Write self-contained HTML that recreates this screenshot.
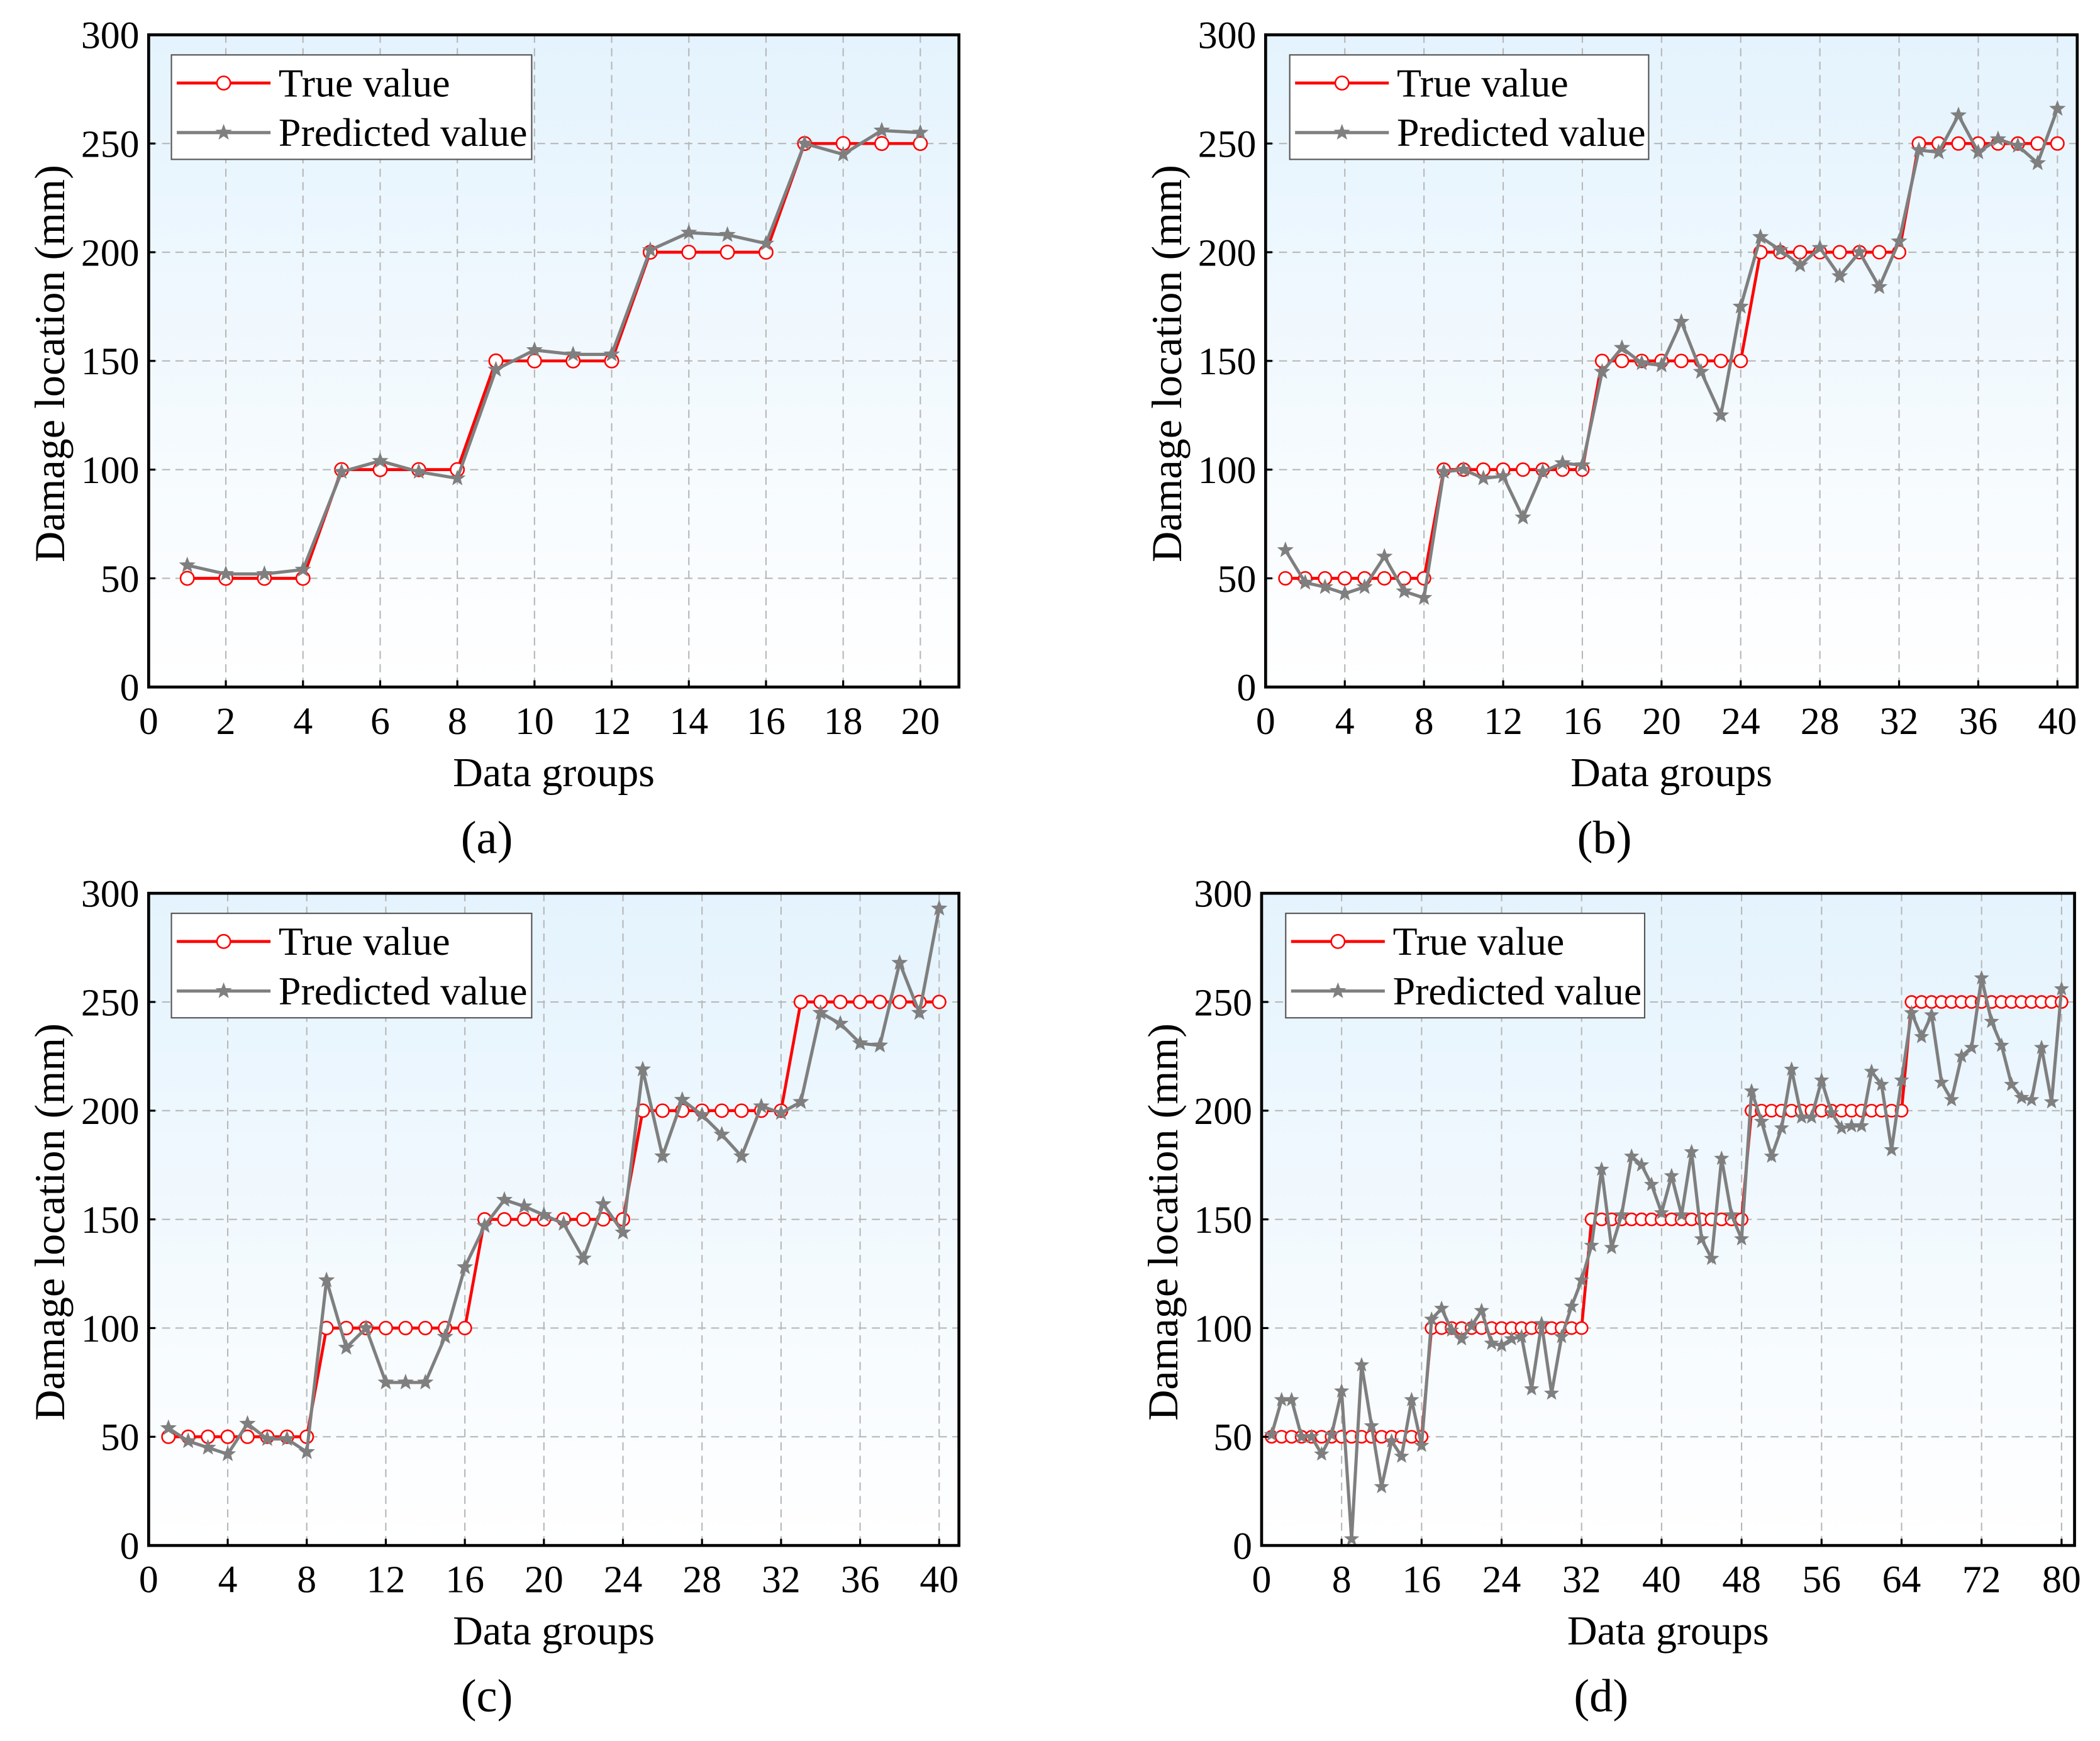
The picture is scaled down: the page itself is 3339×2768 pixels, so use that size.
<!DOCTYPE html>
<html><head><meta charset="utf-8"><style>
html,body{margin:0;padding:0;background:#fff}
svg{display:block}
text{font-family:"Liberation Serif",serif;fill:#000}
</style></head><body>
<svg id="fig" xmlns="http://www.w3.org/2000/svg" width="3339" height="2768" viewBox="0 0 1568 1300" preserveAspectRatio="none">
<defs>
<linearGradient id="bg" x1="0" y1="0" x2="0" y2="1">
<stop offset="0" stop-color="#e4f3fd"/><stop offset="1" stop-color="#ffffff"/>
</linearGradient>
</defs>
</svg>
<script>
const trueA=[50,50,50,50,100,100,100,100,150,150,150,150,200,200,200,200,250,250,250,250];
const predA=[56,52,52,54,99,104,99,96,146,155,153,153,201,209,208,204,250,245,256,255];
const trueB=[50,50,50,50,50,50,50,50,100,100,100,100,100,100,100,100,150,150,150,150,150,150,150,150,200,200,200,200,200,200,200,200,250,250,250,250,250,250,250,250];
const predB=[63,48,46,43,46,60,44,41,99,100,96,97,78,99,103,102,145,156,149,148,168,145,125,175,207,201,194,202,189,200,184,205,247,246,263,246,252,249,241,266];
const trueC=[50,50,50,50,50,50,50,50,100,100,100,100,100,100,100,100,150,150,150,150,150,150,150,150,200,200,200,200,200,200,200,200,250,250,250,250,250,250,250,250];
const predC=[54,48,45,42,56,49,49,43,122,91,100,75,75,75,96,128,147,159,156,152,148,132,157,144,219,179,205,198,189,179,202,199,204,245,240,231,230,268,245,293];
const trueD=[50,50,50,50,50,50,50,50,50,50,50,50,50,50,50,50,100,100,100,100,100,100,100,100,100,100,100,100,100,100,100,100,150,150,150,150,150,150,150,150,150,150,150,150,150,150,150,150,200,200,200,200,200,200,200,200,200,200,200,200,200,200,200,200,250,250,250,250,250,250,250,250,250,250,250,250,250,250,250,250];
const predD=[51,67,67,50,50,42,51,71,3,83,55,27,48,41,67,46,104,109,99,95,101,108,93,92,95,96,72,102,70,96,110,122,138,173,137,152,179,175,166,153,170,152,181,141,132,178,152,141,209,195,179,192,219,197,197,214,199,192,193,193,218,212,182,214,245,234,244,213,205,225,229,261,241,230,212,206,205,229,204,256];
const yTicks=[0,50,100,150,200,250,300];
const xTicksA=[0,2,4,6,8,10,12,14,16,18,20];
const xTicksB=[0,4,8,12,16,20,24,28,32,36,40];
const xTicksD=[0,8,16,24,32,40,48,56,64,72,80];

const NS="http://www.w3.org/2000/svg";
const svg=document.getElementById('fig');
function mk(tag,attrs,parent,txt){const e=document.createElementNS(NS,tag);for(const k in attrs)e.setAttribute(k,attrs[k]);if(txt!==undefined)e.textContent=txt;(parent||svg).appendChild(e);return e;}
function starPts(cx,cy,R){const r=R*0.42;let p=[];for(let i=0;i<10;i++){const a=-Math.PI/2+i*Math.PI/5;const rr=i%2?r:R;p.push((cx+rr*Math.cos(a)).toFixed(2)+','+(cy+rr*Math.sin(a)).toFixed(2));}return p.join(' ');}

const panels=[
 {id:'a',L:111,R:716,T:26,B:513,xmax:21,xt:xTicksA,tv:trueA,pv:predA,leg:[128,41,397,119],cap:'(a)',cr:5,sr:6.5},
 {id:'b',L:945,R:1551,T:26,B:513,xmax:41,xt:xTicksB,tv:trueB,pv:predB,leg:[963,41,1231,119],cap:'(b)',cr:4.8,sr:6.5},
 {id:'c',L:111,R:716,T:667,B:1154,xmax:41,xt:xTicksB,tv:trueC,pv:predC,leg:[128,682,397,760],cap:'(c)',cr:4.8,sr:6.5},
 {id:'d',L:942,R:1549,T:667,B:1154,xmax:81.3,xt:xTicksD,tv:trueD,pv:predD,leg:[960,682,1228,760],cap:'(d)',cr:4.5,sr:6}
];

panels.forEach(p=>{
 const g=mk('g',{});
 
 
 const X=v=>p.L+(v/p.xmax)*(p.R-p.L);
 const Y=v=>p.B-(v/300)*(p.B-p.T);
 const bg=mk('rect',{x:p.L,y:p.T,width:p.R-p.L,height:p.B-p.T,fill:'url(#bg)'},g);
 
 
 yTicks.forEach(t=>{if(t>0&&t<300){const l=mk('line',{x1:p.L,x2:p.R,y1:Y(t),y2:Y(t),stroke:'#b8b8b8','stroke-width':1,'stroke-dasharray':'6,4'},g);}});
 p.xt.forEach(t=>{if(t>0){const l=mk('line',{x1:X(t),x2:X(t),y1:p.T,y2:p.B,stroke:'#b8b8b8','stroke-width':1,'stroke-dasharray':'6,4'},g);}});
 const tp=p.tv.map((v,i)=>X(i+1)+','+Y(v)).join(' ');
 const pp=p.pv.map((v,i)=>X(i+1)+','+Y(v)).join(' ');
 const tl=mk('polyline',{points:tp,fill:'none',stroke:'#ff0000','stroke-width':2.2},g);
 
 
 p.tv.forEach((v,i)=>{const c=mk('circle',{cx:X(i+1),cy:Y(v),r:p.cr,fill:'#fff',stroke:'#ff0000','stroke-width':1.2},g);});
 const pl=mk('polyline',{points:pp,fill:'none',stroke:'#7f7f7f','stroke-width':2.4},g);
 
 
 p.pv.forEach((v,i)=>{const s=mk('polygon',{points:starPts(X(i+1),Y(v),p.sr),fill:'#7f7f7f'},g);});
 const box=mk('rect',{x:p.L,y:p.T,width:p.R-p.L,height:p.B-p.T,fill:'none',stroke:'#000','stroke-width':2.2},g);
 
 
 yTicks.forEach(t=>{mk('line',{x1:p.L,x2:p.L+5,y1:Y(t),y2:Y(t),stroke:'#000','stroke-width':1.5},g);
  const tx=mk('text',{x:p.L-7,y:Y(t)+10,'text-anchor':'end','font-size':29},g,String(t));});
 p.xt.forEach(t=>{mk('line',{x1:X(t),x2:X(t),y1:p.B,y2:p.B-5,stroke:'#000','stroke-width':1.5},g);
  const tx=mk('text',{x:X(t),y:p.B+35,'text-anchor':'middle','font-size':29},g,String(t));});
 const cx=(p.L+p.R)/2;
 const xt=mk('text',{x:cx,y:p.B+74,'text-anchor':'middle','font-size':31},g,'Data groups');
 
 
 const ym=(p.T+p.B)/2;
 const yt=mk('text',{x:0,y:0,'text-anchor':'middle','font-size':32,transform:'translate('+(p.L-63)+','+(ym+2)+') rotate(-90)'},g,'Damage location (mm)');
 
 
 const cap=mk('text',{x:cx-50,y:p.B+124,'text-anchor':'middle','font-size':35},g,p.cap);
 
 
 const [lx1,ly1,lx2,ly2]=p.leg;
 const lg=mk('g',{},g);
 
 
 mk('rect',{x:lx1,y:ly1,width:lx2-lx1,height:ly2-ly1,fill:'#fff',stroke:'#555','stroke-width':1},lg);
 const r1=ly1+21,r2=ly1+58;
 mk('line',{x1:lx1+4,x2:lx1+74,y1:r1,y2:r1,stroke:'#ff0000','stroke-width':2.2},lg);
 mk('circle',{cx:lx1+39,cy:r1,r:5,fill:'#fff',stroke:'#ff0000','stroke-width':1.2},lg);
 const t1=mk('text',{x:lx1+80,y:r1+10,'font-size':30},lg,'True value');
 
 
 mk('line',{x1:lx1+4,x2:lx1+74,y1:r2,y2:r2,stroke:'#7f7f7f','stroke-width':2.4},lg);
 mk('polygon',{points:starPts(lx1+39,r2,6.5),fill:'#7f7f7f'},lg);
 const t2=mk('text',{x:lx1+80,y:r2+10,'font-size':30},lg,'Predicted value');
 
 
});
</script>
</body></html>
